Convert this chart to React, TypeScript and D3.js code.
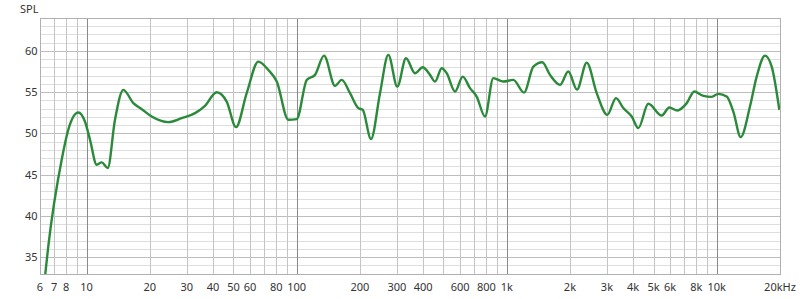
import React, { useEffect, useRef } from "react";
import * as d3 from "d3";

const freqs = [6.3, 6.57, 7.61, 8.18, 9.13, 9.82, 10.38, 11.17, 11.8, 12.61, 13.65, 14.96, 16.69, 18.3, 20.41, 24.49, 28.36, 32.82, 36.62, 41.62, 46.44, 51.44, 57.83, 65.7, 73.3, 80.4, 91.3, 100.1, 111.7, 122.3, 135.0, 152.3, 163.9, 179.5, 196.6, 206.3, 225.9, 249.4, 273.1, 301.4, 331.6, 366.0, 398.2, 431.5, 455.7, 490.5, 518.2, 567.4, 617.4, 668.7, 719.5, 788.2, 863.3, 963.6, 1075, 1209, 1339, 1477, 1607, 1793, 1964, 2161, 2404, 2682, 3013, 3314, 3590, 3936, 4231, 4721, 5468, 5944, 6487, 7195, 7819, 8571, 9461, 10170, 11150, 11990, 13000, 14390, 15490, 16970, 18260, 19850];
const spl = [32.0, 36.3, 46.8, 50.44, 52.53, 51.44, 49.23, 46.2, 46.48, 45.8, 51.65, 55.28, 53.67, 52.94, 52.05, 51.37, 51.85, 52.46, 53.34, 55.0, 53.86, 50.76, 54.88, 58.71, 57.7, 56.29, 51.65, 51.73, 56.49, 57.1, 59.43, 55.77, 56.49, 54.88, 53.07, 52.86, 49.31, 54.88, 59.52, 55.68, 59.12, 57.3, 58.03, 57.1, 56.29, 57.91, 57.3, 55.08, 56.89, 55.49, 54.47, 52.05, 56.7, 56.29, 56.49, 54.95, 58.1, 58.64, 57.1, 55.89, 57.5, 55.32, 58.59, 54.88, 52.25, 54.28, 53.07, 52.05, 50.64, 53.59, 52.17, 53.14, 52.77, 53.67, 55.08, 54.59, 54.43, 54.8, 54.47, 52.65, 49.55, 53.26, 56.89, 59.43, 58.1, 52.86];

const xTickValues = [6, 7, 8, 10, 20, 30, 40, 50, 60, 80, 100, 200, 300, 400, 600, 800, 1000, 2000, 3000, 4000, 5000, 6000, 8000, 10000, 20000];
const xTickLabels = ["6", "7", "8", "10", "20", "30", "40", "50", "60", "80", "100", "200", "300", "400", "600", "800", "1k", "2k", "3k", "4k", "5k", "6k", "8k", "10k", "20kHz"];
const yTickValues = [35, 40, 45, 50, 55, 60];
const yLabel = "SPL";

const W = 800, H = 299;
const M = { left: 40, right: 20, top: 18, bottom: 25 };

export default function App() {
  const ref = useRef<SVGSVGElement>(null);
  useEffect(() => {
    document.body.style.margin = "0";
    const svg = d3.select(ref.current);
    svg.selectAll("*").remove();
    const x = d3.scaleLog().domain([6, 20000]).range([M.left, W - M.right]);
    const y = d3.scaleLinear().domain([33, 64]).range([H - M.bottom - 0.5, M.top]);
    const font = "'Noto Sans', 'Open Sans', sans-serif";

    const g = svg.append("g");
    d3.range(33, 65).forEach((v) => {
      const major = v % 5 === 0;
      g.append("line")
        .attr("x1", M.left).attr("x2", W - M.right)
        .attr("y1", Math.round(y(v)) + 0.5).attr("y2", Math.round(y(v)) + 0.5)
        .attr("stroke", major ? "#bdbdbd" : "#dedede").attr("stroke-width", 1);
    });
    const vLines: number[] = [];
    [1, 10, 100, 1000, 10000].forEach((dec) => {
      for (let k = 1; k <= 9; k++) {
        const f = dec * k;
        if (f >= 6 && f <= 20000) vLines.push(f);
      }
    });
    vLines.forEach((f) => {
      const isDec = [10, 100, 1000, 10000].includes(f);
      g.append("line")
        .attr("x1", Math.round(x(f)) + 0.5).attr("x2", Math.round(x(f)) + 0.5)
        .attr("y1", M.top).attr("y2", H - M.bottom)
        .attr("stroke", isDec ? "#8a8a8a" : "#c4c4c4").attr("stroke-width", 1);
    });
    g.append("rect")
      .attr("x", M.left + 0.5).attr("y", M.top + 0.5)
      .attr("width", W - M.left - M.right).attr("height", H - M.top - M.bottom)
      .attr("fill", "none").attr("stroke", "#b0b0b0");

    xTickValues.forEach((f, i) => {
      svg.append("text").attr("x", x(f)).attr("y", 291)
        .attr("text-anchor", "middle").attr("font-family", font).attr("font-size", 11)
        .attr("fill", "#333").text(xTickLabels[i]);
    });
    yTickValues.forEach((v) => {
      svg.append("text").attr("x", 37.5).attr("y", y(v) + 4)
        .attr("text-anchor", "end").attr("font-family", font).attr("font-size", 11)
        .attr("fill", "#333").text(String(v));
    });
    svg.append("text").attr("x", 20).attr("y", 12.5)
      .attr("font-family", font).attr("font-size", 11).attr("fill", "#333").text(yLabel);

    svg.append("clipPath").attr("id", "plotclip").append("rect")
      .attr("x", M.left).attr("y", M.top).attr("width", W - M.left - M.right).attr("height", H - M.top - M.bottom);

    const data = freqs.map((f, i) => [f, spl[i]] as [number, number]);
    const line = d3.line<[number, number]>()
      .x((d) => x(d[0])).y((d) => y(d[1]))
      .curve(d3.curveMonotoneX);
    svg.append("path").attr("d", line(data) as string)
      .attr("clip-path", "url(#plotclip)")
      .attr("fill", "none").attr("stroke", "#2a8a3a").attr("stroke-width", 2.4)
      .attr("stroke-linejoin", "round");
  }, []);
  return <svg ref={ref} width={W} height={H} style={{ display: "block" }} />;
}
